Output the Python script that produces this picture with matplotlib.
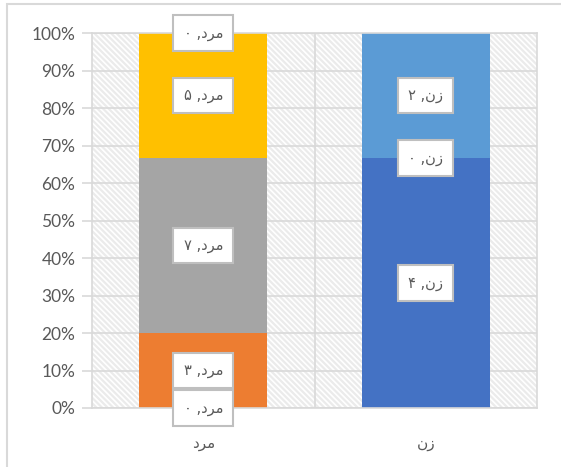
import matplotlib
matplotlib.use("Agg")
import matplotlib.pyplot as plt
from matplotlib.patches import Rectangle

# data (100% stacked columns)
categories = ["مرد", "زن"]
men_values = [0, 3, 7, 5, 0]
women_values = [4, 0, 2]
men_colors = ["#ED7D31", "#ED7D31", "#A5A5A5", "#FFC000", "#FFC000"]
women_colors = ["#4472C4", "#4472C4", "#5B9BD5"]
y_ticks = [0, 10, 20, 30, 40, 50, 60, 70, 80, 90, 100]

TEXT = "#595959"
GRID = "#D9D9D9"

# minimal Arabic shaping for the few letters used (matplotlib has no bidi)
FORMS = {
    "م": ("\uFEE1", "\uFEE2", "\uFEE3", "\uFEE4"),
    "ر": ("\uFEAD", "\uFEAE", None, None),
    "د": ("\uFEA9", "\uFEAA", None, None),
    "ز": ("\uFEAF", "\uFEB0", None, None),
    "ن": ("\uFEE5", "\uFEE6", "\uFEE7", "\uFEE8"),
}
PERSIAN_DIGITS = "۰۱۲۳۴۵۶۷۸۹"


def shape(word):
    out = []
    for i, ch in enumerate(word):
        iso, fin, ini, med = FORMS[ch]
        prev_joins = i > 0 and FORMS[word[i - 1]][2] is not None
        next_exists = i < len(word) - 1
        if prev_joins and next_exists and med:
            out.append(med)
        elif prev_joins:
            out.append(fin)
        elif next_exists and ini:
            out.append(ini)
        else:
            out.append(iso)
    return "".join(reversed(out))


def fa_num(n):
    return "".join(PERSIAN_DIGITS[int(d)] for d in str(n))


def label(cat, v):
    # logical "cat, v" shown right-to-left
    return fa_num(v) + " ," + shape(cat)


plt.rcParams["font.family"] = ["Lato", "DejaVu Sans"]
plt.rcParams["hatch.linewidth"] = 1.6
plt.rcParams["hatch.color"] = "#EBEBEB"

fig = plt.figure(figsize=(5.61, 4.67), dpi=100)
ax = fig.add_axes([92 / 561, 1 - 408 / 467, (537 - 92) / 561, (408 - 33) / 467])

# outer chart border (only top and left fall inside the picture)
fig.patches.append(Rectangle((7 / 561, -0.1), 1.2, 1 - 4 / 467 + 0.1,
                             transform=fig.transFigure, fill=False,
                             edgecolor=GRID, lw=1.5))

ax.patch.set_facecolor("white")
ax.patch.set_hatch("\\\\\\\\\\\\")
ax.patch.set_edgecolor("#EBEBEB")

width = 0.575
box = dict(boxstyle="square,pad=0.7", fc="white", ec="#BFBFBF", lw=1.5)

for xi, (cat, vals, cols) in enumerate(zip(categories,
                                           [men_values, women_values],
                                           [men_colors, women_colors])):
    total = sum(vals)
    bottom = 0.0
    for v, c in zip(vals, cols):
        h = v / total * 100
        if h > 0:
            ax.bar(xi, h, width, bottom=bottom, color=c, zorder=2)
        ax.text(xi, bottom + h / 2, label(cat, v), ha="center", va="center",
                fontsize=10.5, color=TEXT, bbox=box, zorder=4,
                family=["DejaVu Sans"])
        bottom += h

ax.set_xlim(-0.5, 1.5)
ax.set_ylim(0, 100)
ax.set_yticks(y_ticks)
ax.set_yticklabels([f"{t}%" for t in y_ticks], fontsize=12.5, color=TEXT)
ax.set_xticks(range(len(categories)))
ax.set_xticklabels([shape(c) for c in categories], fontsize=11, color=TEXT,
                   family=["DejaVu Sans"])
ax.tick_params(axis="x", length=0, pad=20)
ax.tick_params(axis="y", length=7, color=GRID, width=1.2, pad=5)

ax.grid(axis="y", color=GRID, lw=1.2, zorder=1)
for xv in [0.5]:
    ax.axvline(xv, color=GRID, lw=1.2, zorder=1)
ax.set_axisbelow(True)
for s in ax.spines.values():
    s.set_color(GRID)
    s.set_linewidth(1.2)

fig.savefig("out.png", dpi=100)
